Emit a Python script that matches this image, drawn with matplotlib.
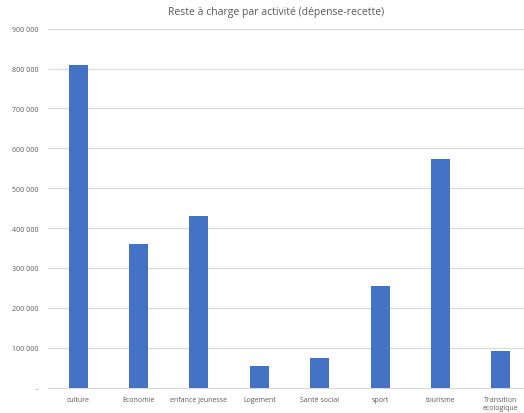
import matplotlib
matplotlib.use("Agg")
import matplotlib.pyplot as plt
import numpy as np

categories = ["culture", "Economie", "enfance jeunesse", "Logement", "Santé social",
              "sport", "tourisme", "Transition\necologique"]
values = [809000, 361000, 430000, 53000, 73000, 254000, 573000, 91000]
yticks = [0, 100000, 200000, 300000, 400000, 500000, 600000, 700000, 800000, 900000]
ytick_labels = ["-"] + ["{:,}".format(v).replace(",", " ") for v in yticks[1:]]

plt.rcParams['font.family'] = ['Open Sans', 'DejaVu Sans']

fig = plt.figure(figsize=(5.24, 4.14), dpi=100)
# axes run past the right edge, like the cropped original
ax = fig.add_axes([48 / 524, 1 - 388.5 / 414, 483 / 524, 358.8 / 414])

x = np.arange(len(categories))
ax.bar(x, values, width=0.315, color="#4472C4", zorder=3)

ax.set_xlim(-0.5, len(categories) - 0.5)
ax.set_ylim(0, 900000)
ax.set_yticks(yticks)
ax.set_yticklabels(ytick_labels, fontsize=5, color="#595959")
ax.set_xticks(x)
ax.set_xticklabels(categories, fontsize=5, color="#595959")
ax.tick_params(axis="both", length=0)
ax.tick_params(axis="y", pad=7)
ax.tick_params(axis="x", pad=6)
ax.grid(axis="y", color="#D9D9D9", linewidth=0.8, zorder=0)
for s in ["top", "right", "left"]:
    ax.spines[s].set_visible(False)
ax.spines["bottom"].set_color("#D9D9D9")
ax.spines["bottom"].set_linewidth(0.8)

fig.text(276 / 524, 1 - 13 / 414, "Reste à charge par activité (dépense-recette)",
         ha="center", va="center", fontsize=7.5, color="#595959")

fig.savefig("out.png", dpi=100)
